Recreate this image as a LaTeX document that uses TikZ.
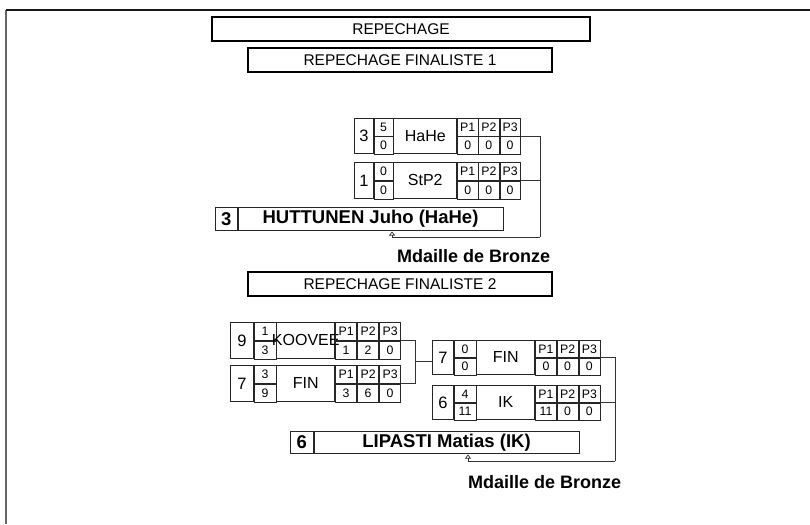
\documentclass[tikz,border=0pt]{standalone}
\usepackage{fontspec}
\setmainfont{Liberation Sans}
\usetikzlibrary{arrows.meta}
\newcommand\fsmall{\fontsize{12.3}{13}\selectfont}
\newcommand\fseed{\fontsize{16.5}{18}\selectfont}
\newcommand\fteam{\fontsize{16}{19}\selectfont}
\newcommand\ftitle{\fontsize{15.5}{18}\selectfont}
\newcommand\fwin{\fontsize{18.5}{21}\selectfont\bfseries}
\newcommand\fbronze{\fontsize{18}{21}\selectfont\bfseries}
\def\ws{19}\def\wc{19}\def\wn{63}\def\wp{20.5}\def\hh{35}
% #1 name, #2 top-left, #3 seed, #4 score a, #5 score b, #6 team, #7-#9 P values
\newcommand\matchcells[9]{%
  \coordinate (#1) at #2;
  \node[cell, minimum width=\ws, minimum height=\hh] (#1-seed) at (#1) {\fseed #3};
  \node[cell, minimum width=\wc, minimum height=\hh/2] (#1-sa) at (#1-seed.north east) {\fsmall #4};
  \node[cell, minimum width=\wc, minimum height=\hh/2] (#1-sb) at (#1-sa.south west) {\fsmall #5};
  \node[cell, minimum width=\wn, minimum height=\hh] (#1-team) at (#1-sa.north east) {\fteam\makebox[0pt]{#6}};
  \node[cell, minimum width=\wp, minimum height=\hh/2] (#1-p1h) at (#1-team.north east) {\fsmall P1};
  \node[cell, minimum width=\wp, minimum height=\hh/2] (#1-p1) at (#1-p1h.south west) {\fsmall #7};
  \node[cell, minimum width=\wp, minimum height=\hh/2] (#1-p2h) at (#1-p1h.north east) {\fsmall P2};
  \node[cell, minimum width=\wp, minimum height=\hh/2] (#1-p2) at (#1-p2h.south west) {\fsmall #8};
  \node[cell, minimum width=\wp, minimum height=\hh/2] (#1-p3h) at (#1-p2h.north east) {\fsmall P3};
  \node[cell, minimum width=\wp, minimum height=\hh/2] (#1-p3) at (#1-p3h.south west) {\fsmall #9};
  \coordinate (#1-out) at (#1-p3h.south east);
  \coordinate (#1-in) at (#1-seed.west);
}
\begin{document}
\begin{tikzpicture}[x=1pt,y=-1pt,
  cell/.style={draw=black!85, line width=0.7pt, inner sep=0pt, anchor=north west},
  titlebox/.style={draw=black, inner sep=0pt, font=\ftitle},
  conn/.style={draw=black!80, line width=0.7pt},
  arr/.style={conn, -{Triangle[open, length=4pt, width=6pt]}}]
\useasboundingbox (0,0) rectangle (810,524);
% frame
\draw[black!60, line width=1.6pt] (6,10) -- (6,524);
\draw[black!90, line width=1.6pt] (6,10) -- (810,10);
% titles
\node[titlebox, line width=1.8pt, minimum width=378, minimum height=24] (t0) at (401,29) {REPECHAGE};
\node[titlebox, line width=1.3pt, minimum width=304, minimum height=24] (t1) at (400,60) {REPECHAGE FINALISTE 1};
\node[titlebox, line width=1.3pt, minimum width=304, minimum height=24] (t2) at (400,284) {REPECHAGE FINALISTE 2};
% repechage 1
\def\ws{19}\def\wc{19}\def\wn{63}\def\wp{20.5}\def\hh{35}
\matchcells{m1}{(354,118)}{3}{5}{0}{HaHe}{0}{0}{0}
\def\hh{36}
\matchcells{m2}{(354,162)}{1}{0}{0}{StP2}{0}{0}{0}
\node[cell, minimum width=22, minimum height=23] (w1s) at (215,207) {\fwin 3};
\node[cell, minimum width=265, minimum height=23] (w1n) at (w1s.north east) {\fwin HUTTUNEN Juho (HaHe)};
\coordinate (j1) at (540,237);
\coordinate (a1) at (392,231.5);
\draw[conn] (m1-out) -| (j1);
\draw[conn] (m2-out) -- (m2-out -| j1);
\draw[arr] (j1) -| (a1);
\node[anchor=base west, inner sep=0pt, font=\fbronze] (b1) at (397,262) {Mdaille de Bronze};
% repechage 2
\def\ws{23}\def\wc{22}\def\wn{58}\def\wp{21.3}\def\hh{36}
\matchcells{m3}{(230,322)}{9}{1}{3}{KOOVEE}{1}{2}{0}
\matchcells{m4}{(230,365)}{7}{3}{9}{FIN}{3}{6}{0}
\def\ws{21}\def\wc{22}\def\wn{58}\def\wp{21}\def\hh{34}
\matchcells{m5}{(432,340)}{7}{0}{0}{FIN}{0}{0}{0}
\matchcells{m6}{(432,385)}{6}{4}{11}{IK}{11}{0}{0}
\coordinate (j2) at (415,361.5);
\draw[conn] (m3-out) -| (j2);
\draw[conn] (m4-out) -| (j2);
\draw[conn] (j2) -- (j2 -| m5-in);
\node[cell, minimum width=23, minimum height=22] (w2s) at (290,431) {\fwin 6};
\node[cell, minimum width=265, minimum height=22] (w2n) at (w2s.north east) {\fwin LIPASTI Matias (IK)};
\coordinate (j3) at (615,461);
\coordinate (a2) at (468,454.5);
\draw[conn] (m5-out) -| (j3);
\draw[conn] (m6-out) -- (m6-out -| j3);
\draw[arr] (j3) -| (a2);
\node[anchor=base west, inner sep=0pt, font=\fbronze] (b2) at (468,488) {Mdaille de Bronze};
\end{tikzpicture}
\end{document}
